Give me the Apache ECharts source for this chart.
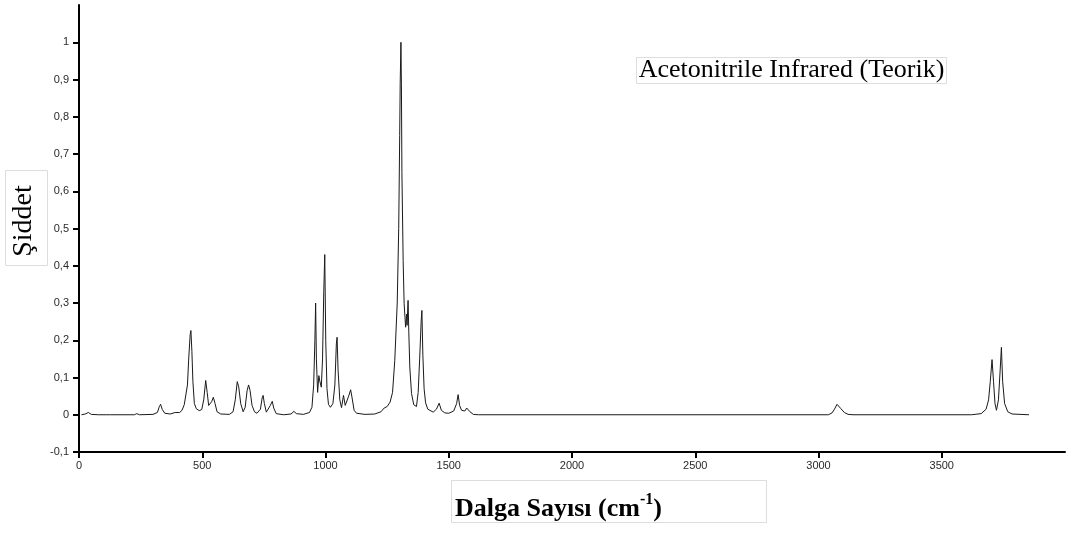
<!DOCTYPE html>
<html>
<head>
<meta charset="utf-8">
<script src="https://cdn.jsdelivr.net/npm/echarts@6/dist/echarts.min.js"></script>
<style>
html,body{margin:0;padding:0;background:#fff;}
#chart{width:1084px;height:533px;}
</style>
</head>
<body>
<div id="chart"></div>
<script>
const chartTitle = 'Acetonitrile Infrared (Teorik)';
const xAxisName = 'Dalga Sayısı (cm';
const xAxisNameSup = '-1';
const yAxisName = 'Şiddet';

const xTickValues = [0, 500, 1000, 1500, 2000, 2500, 3000, 3500];
const yTickValues = [-0.1, 0, 0.1, 0.2, 0.3, 0.4, 0.5, 0.6, 0.7, 0.8, 0.9, 1];

const wavenumbers = [
  10, 25, 38, 50, 80, 110, 118, 128, 225, 234, 245, 300, 318, 326, 331, 338, 348, 370, 390, 398,
  408, 418, 427, 434, 440, 445, 451, 454, 458, 462, 468, 476, 488, 498, 506, 514, 520, 526, 531, 538,
  545, 552, 560, 575, 610, 625, 634, 642, 648, 656, 666, 674, 682, 688, 694, 702, 712, 722, 736, 743,
  747, 752, 760, 767, 776, 784, 790, 800, 830, 860, 872, 882, 910, 935, 945, 952, 957, 960, 963, 968,
  973, 977, 983, 988, 993, 997, 1001, 1006, 1012, 1020, 1030, 1038, 1044, 1047, 1051, 1058, 1065, 1073, 1080, 1086,
  1094, 1102, 1108, 1116, 1126, 1160, 1200, 1225, 1238, 1250, 1262, 1272, 1281, 1291, 1297, 1301, 1303, 1306, 1308, 1310,
  1315, 1319, 1325, 1329, 1331, 1335, 1338, 1342, 1349, 1358, 1369, 1376, 1382, 1388, 1391, 1395, 1400, 1406, 1415, 1437,
  1450, 1461, 1470, 1484, 1500, 1520, 1532, 1538, 1544, 1552, 1565, 1573, 1579, 1586, 1600, 1620, 3040, 3055, 3065, 3075,
  3090, 3105, 3120, 3140, 3620, 3660, 3680, 3690, 3697, 3704, 3710, 3716, 3722, 3730, 3737, 3742, 3747, 3755, 3768, 3785,
  3854
];
const intensities = [
  0.0, 0.002, 0.006, 0.001, 0.0, 0.0, 0.003, 0.0, 0.0, 0.003, 0.0, 0.001, 0.006, 0.022, 0.028, 0.014, 0.004, 0.002, 0.006, 0.009,
  0.006, 0.012, 0.027, 0.03, 0.08, 0.15, 0.215, 0.226, 0.17, 0.09, 0.03, 0.016, 0.011, 0.014, 0.04, 0.092, 0.06, 0.025, 0.02, 0.035,
  0.047, 0.03, 0.008, 0.002, 0.001, 0.008, 0.04, 0.089, 0.075, 0.03, 0.008, 0.02, 0.065, 0.08, 0.065, 0.025, 0.008, 0.004, 0.015, 0.045,
  0.052, 0.03, 0.007, 0.008, 0.025, 0.036, 0.018, 0.003, 0.0, 0.002, 0.009, 0.003, 0.001, 0.006, 0.02, 0.08, 0.2, 0.30, 0.15, 0.06,
  0.105, 0.09, 0.074, 0.15, 0.33, 0.43, 0.2, 0.07, 0.028, 0.02, 0.03, 0.08, 0.19, 0.208, 0.12, 0.04, 0.019, 0.052, 0.025, 0.022,
  0.05, 0.067, 0.045, 0.012, 0.004, 0.001, 0.002, 0.008, 0.018, 0.022, 0.034, 0.06, 0.146, 0.30, 0.50, 0.75, 0.89, 1.0, 0.88, 0.65,
  0.414, 0.298, 0.235, 0.27, 0.24, 0.307, 0.22, 0.128, 0.057, 0.027, 0.022, 0.06, 0.15, 0.25, 0.28, 0.16, 0.07, 0.032, 0.015, 0.007,
  0.015, 0.031, 0.012, 0.005, 0.004, 0.01, 0.03, 0.054, 0.025, 0.012, 0.01, 0.018, 0.023, 0.008, 0.001, 0.0, 0.0, 0.005, 0.015, 0.028,
  0.017, 0.006, 0.001, 0.0, 0.0, 0.003, 0.015, 0.04, 0.09, 0.148, 0.09, 0.03, 0.012, 0.04, 0.12, 0.181, 0.09, 0.03, 0.008, 0.002,
  0.0
];

const seriesData = wavenumbers.map((w, i) => [w, intensities[i]]);

const chart = echarts.init(document.getElementById('chart'), null, {renderer: 'canvas'});
const labelFont = {fontFamily: 'Liberation Sans, Arial, sans-serif', fontSize: 11, color: '#2a2a2a'};

chart.setOption({
  animation: false,
  backgroundColor: '#ffffff',
  grid: {left: 79, right: 19, top: 5, bottom: 81, containLabel: false},
  xAxis: {
    type: 'value',
    min: 0,
    max: 4000,
    splitLine: {show: false},
    axisLine: {show: true, onZero: false, lineStyle: {color: '#000', width: 2}},
    axisTick: {show: true, inside: false, length: 6, lineStyle: {color: '#000', width: 2}, customValues: xTickValues},
    axisLabel: Object.assign({margin: 8, customValues: xTickValues, formatter: v => String(v)}, labelFont)
  },
  yAxis: {
    type: 'value',
    min: -0.1,
    max: 1.1,
    splitLine: {show: false},
    axisLine: {show: true, onZero: false, lineStyle: {color: '#000', width: 2}},
    axisTick: {show: true, inside: false, length: 6, lineStyle: {color: '#000', width: 2}, customValues: yTickValues},
    axisLabel: Object.assign({
      margin: 10,
      customValues: yTickValues,
      formatter: v => String(Math.round(v * 10) / 10).replace('.', ',')
    }, labelFont)
  },
  series: [{
    type: 'line',
    name: chartTitle,
    data: seriesData,
    showSymbol: false,
    smooth: false,
    lineStyle: {color: '#1a1a1a', width: 1},
    z: 3
  }],
  graphic: [
    {
      type: 'rect', z: 10,
      shape: {x: 636.5, y: 57.5, width: 310, height: 26},
      style: {fill: '#fff', stroke: '#dddddd', lineWidth: 1}
    },
    {
      type: 'text', z: 11, x: 791.5, y: 70,
      style: {text: chartTitle, font: '26px "Liberation Serif", "Times New Roman", serif', fill: '#000', align: 'center', verticalAlign: 'middle'}
    },
    {
      type: 'rect', z: 10,
      shape: {x: 5.5, y: 170.5, width: 42, height: 95},
      style: {fill: '#fff', stroke: '#dddddd', lineWidth: 1}
    },
    {
      type: 'text', z: 11, x: 24, y: 221, rotation: Math.PI / 2,
      style: {text: yAxisName, font: '28px "Liberation Serif", "Times New Roman", serif', fill: '#000', align: 'center', verticalAlign: 'middle'}
    },
    {
      type: 'rect', z: 10,
      shape: {x: 451.5, y: 480.5, width: 315, height: 42},
      style: {fill: '#fff', stroke: '#dddddd', lineWidth: 1}
    },
    {
      type: 'text', z: 11, x: 455, y: 507,
      style: {
        text: '{a|' + xAxisName + '}{s|' + xAxisNameSup + '}{a|)}',
        align: 'left', verticalAlign: 'middle',
        rich: {
          a: {fontFamily: 'Liberation Serif', fontWeight: 'bold', fontSize: 26, lineHeight: 30, verticalAlign: 'bottom', fill: '#000'},
          s: {fontFamily: 'Liberation Serif', fontWeight: 'bold', fontSize: 16, lineHeight: 30, verticalAlign: 'top', fill: '#000'}
        }
      }
    }
  ]
});
</script>
</body>
</html>
